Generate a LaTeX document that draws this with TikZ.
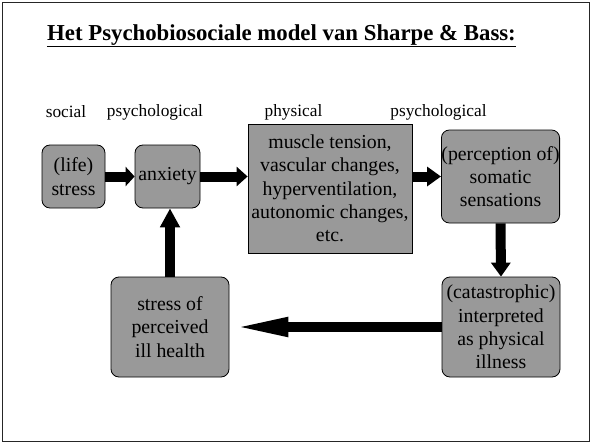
\documentclass[tikz,border=0pt]{standalone}
\usepackage{fontspec}
\setmainfont{Liberation Serif}
\usetikzlibrary{arrows.meta}

\begin{document}
\begin{tikzpicture}[x=1pt, y=-1pt, line cap=butt,
  box/.style={draw=black, line width=0.8pt, fill=boxgray, rounded corners=8pt, align=center,
    inner sep=0pt, font=\fontsize{19.8}{23.3}\selectfont},
  level/.style={font=\fontsize{17.3}{20}\selectfont},
  flow/.style={line width=10pt, -{Triangle[length=#1, width=19pt]}}, flow/.default=11pt]
  \definecolor{boxgray}{HTML}{999999}
  \useasboundingbox (0,0) rectangle (592,444);
  \draw[line width=1.5pt, black!85] (2.5,2.5) rectangle (589.5,441.5);
  % title
  \node[inner sep=0pt, font=\bfseries\fontsize{22.8}{26}\selectfont] (title) at (281.5,35) {Het Psychobiosociale model van Sharpe \& Bass:};
  \draw[line width=1.8pt] ([yshift=-6pt]title.base west) -- ([yshift=-6pt]title.base east);
  % levels
  \node[level] (lsocial) at (66,112) {social};
  \node[level] (lpsych) at (155,112) {psychological};
  \node[level] (lphys) at (293.5,112) {physical};
  \node[level] (lpsychb) at (438.5,112) {psychological};
  % boxes
  \node[box, minimum width=63pt, minimum height=63pt] (stress) at (73.5,176.5) {(life)\\stress};
  \node[box, minimum width=65pt, minimum height=63pt] (anxiety) at (167.5,176.5) {anxiety};
  \node[box, rounded corners=0pt, minimum width=164pt, minimum height=129pt] (physical) at (330,188.5)
    {muscle tension,\\vascular changes,\\hyperventilation,\\autonomic changes,\\etc.};
  \node[box, minimum width=117pt, minimum height=93pt] (somatic) at (500.5,176.5) {(perception of)\\somatic\\sensations};
  \node[box, minimum width=118pt, minimum height=100pt] (illness) at (501,327) {(catastrophic)\\interpreted\\as physical\\illness};
  \node[box, minimum width=118pt, minimum height=100pt] (illhealth) at (170,327) {stress of\\perceived\\ill health};
  % connectors
  \draw[flow=9pt] (stress.east) -- (anxiety.west);
  \draw[flow] (anxiety.east) -- (anxiety.east -| physical.west);
  \draw[flow=14pt] (physical.east |- somatic.west) -- (somatic.west);
  \draw[flow=14pt] (somatic.south) -- (illness.north);
  \draw[line width=10pt, -{Triangle[length=59pt, width=17pt]}] (illness.west) -- (illhealth.east);
  \draw[flow=19pt] (illhealth.north) -- (illhealth.north |- anxiety.south);
\end{tikzpicture}
\end{document}
